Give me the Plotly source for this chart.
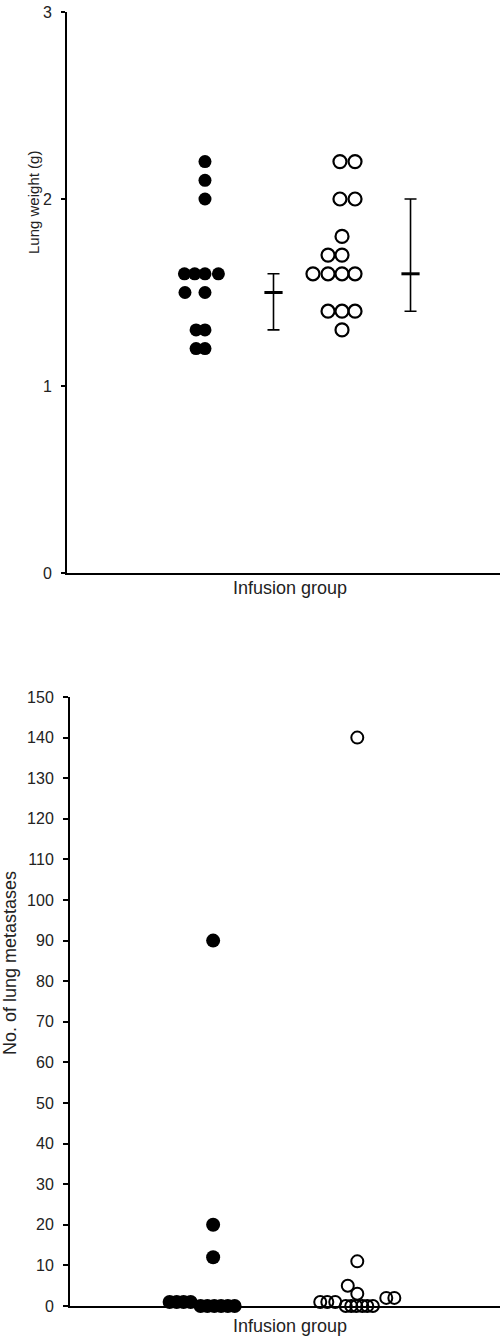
import plotly.graph_objects as go

# ---------------- data ----------------
group_positions = [1, 2]          # filled group, open group
summary_offset = 0.5              # summary bar sits to the right of each group

# Top panel: lung weight (g)
top_filled_values = [2.2, 2.1, 2.0, 1.6, 1.6, 1.6, 1.6, 1.5, 1.5, 1.3, 1.3, 1.2, 1.2]
top_filled_offsets = [0, 0, 0, -0.15, -0.075, 0, 0.098, -0.146, 0, -0.065, 0, -0.065, 0]
top_open_values = [2.2, 2.2, 2.0, 2.0, 1.8, 1.7, 1.7, 1.6, 1.6, 1.6, 1.6, 1.4, 1.4, 1.4, 1.3]
top_open_offsets = [-0.015, 0.095, -0.015, 0.095, 0, -0.102, 0, -0.212, -0.102, 0, 0.095,
                    -0.102, 0, 0.095, 0]
summary_center = [1.5, 1.6]
summary_upper = [1.6, 2.0]
summary_lower = [1.3, 1.4]
top_ticks = [0, 1, 2, 3]

# Bottom panel: number of lung metastases
bot_filled_values = [90, 20, 12, 1, 1, 1, 1, 0, 0, 0, 0, 0, 0]
bot_filled_offsets = [0, 0, 0, -0.302, -0.253, -0.205, -0.156, -0.087, -0.040, 0.008,
                      0.055, 0.102, 0.149]
bot_open_values = [140, 11, 5, 3, 2, 2, 1, 1, 1, 0, 0, 0, 0, 0, 0]
bot_open_offsets = [0, 0, -0.066, 0, 0.201, 0.257, -0.257, -0.208, -0.153, -0.080, -0.042,
                    -0.007, 0.035, 0.069, 0.108]
bot_ticks = list(range(0, 151, 10))

x_title = "Infusion group"
top_y_title = "Lung weight (g)"
bot_y_title = "No. of lung metastases"

# ---------------- figure ----------------
W, H = 500, 1336
FONT = "Liberation Sans, Arial, sans-serif"
TXT = "#222222"

def px_x(p):
    return p / W

def px_y(p):
    return 1 - p / H

fig = go.Figure()

filled_marker = dict(symbol="circle", size=13, color="black")
open_marker = dict(symbol="circle-open", size=13, color="black", line=dict(width=2.2))

# top panel
fig.add_trace(go.Scatter(
    x=[group_positions[0] + o for o in top_filled_offsets], y=top_filled_values,
    mode="markers", marker=filled_marker, xaxis="x", yaxis="y", cliponaxis=False))
fig.add_trace(go.Scatter(
    x=[group_positions[1] + o for o in top_open_offsets], y=top_open_values,
    mode="markers", marker=open_marker, xaxis="x", yaxis="y", cliponaxis=False))
fig.add_trace(go.Scatter(
    x=[g + summary_offset for g in group_positions], y=summary_center,
    mode="markers",
    marker=dict(symbol="line-ew", size=13, color="black", line=dict(width=3, color="black")),
    error_y=dict(type="data", symmetric=False,
                 array=[u - c for u, c in zip(summary_upper, summary_center)],
                 arrayminus=[c - l for c, l in zip(summary_center, summary_lower)],
                 color="black", thickness=1.6, width=6),
    xaxis="x", yaxis="y", cliponaxis=False))

# bottom panel
fig.add_trace(go.Scatter(
    x=[group_positions[0] + o for o in bot_filled_offsets], y=bot_filled_values,
    mode="markers", marker=dict(symbol="circle", size=14, color="black"),
    xaxis="x2", yaxis="y2", cliponaxis=False))
fig.add_trace(go.Scatter(
    x=[group_positions[1] + o for o in bot_open_offsets], y=bot_open_values,
    mode="markers", marker=dict(symbol="circle-open", size=12, color="black", line=dict(width=2)),
    xaxis="x2", yaxis="y2", cliponaxis=False))

axis_common = dict(showgrid=False, zeroline=False, showline=True, linecolor="black",
                   linewidth=2, automargin=False)

fig.update_layout(
    width=W, height=H,
    margin=dict(l=0, r=0, t=0, b=0, autoexpand=False),
    paper_bgcolor="white", plot_bgcolor="white",
    showlegend=False,
    font=dict(family=FONT, color=TXT, size=16),
    xaxis=dict(domain=[px_x(67), 1.0], range=[-0.007, 3.153], anchor="y",
               showticklabels=False, ticks="", **axis_common),
    yaxis=dict(domain=[px_y(573), px_y(12)], range=[0, 3], anchor="x",
               tickvals=top_ticks, ticks="outside", ticklen=4, tickwidth=2,
               tickcolor="black", ticklabelstandoff=6,
               tickfont=dict(size=16, color=TXT), **axis_common),
    xaxis2=dict(domain=[px_x(70), 1.0], range=[0.007, 2.99], anchor="y2",
                showticklabels=False, ticks="", **axis_common),
    yaxis2=dict(domain=[px_y(1306), px_y(697)], range=[0, 150], anchor="x2",
                tickvals=bot_ticks, ticks="outside", ticklen=5, tickwidth=2,
                tickcolor="black", ticklabelstandoff=6,
                tickfont=dict(size=16, color=TXT), **axis_common),
    annotations=[
        dict(text=x_title, x=px_x(290), y=px_y(588), xref="paper", yref="paper",
             xanchor="center", yanchor="middle", showarrow=False,
             font=dict(size=18, color=TXT, family=FONT)),
        dict(text=x_title, x=px_x(290), y=px_y(1326), xref="paper", yref="paper",
             xanchor="center", yanchor="middle", showarrow=False,
             font=dict(size=18, color=TXT, family=FONT)),
        dict(text=top_y_title, x=px_x(34), y=px_y(203), xref="paper", yref="paper",
             xanchor="center", yanchor="middle", showarrow=False, textangle=-90,
             font=dict(size=15, color=TXT, family=FONT)),
        dict(text=bot_y_title, x=px_x(10), y=px_y(963), xref="paper", yref="paper",
             xanchor="center", yanchor="middle", showarrow=False, textangle=-90,
             font=dict(size=18, color=TXT, family=FONT)),
    ],
)

fig.write_html("out.html",
               config={"displayModeBar": False},
               post_script="document.body.style.margin='0';document.body.style.padding='0';")
